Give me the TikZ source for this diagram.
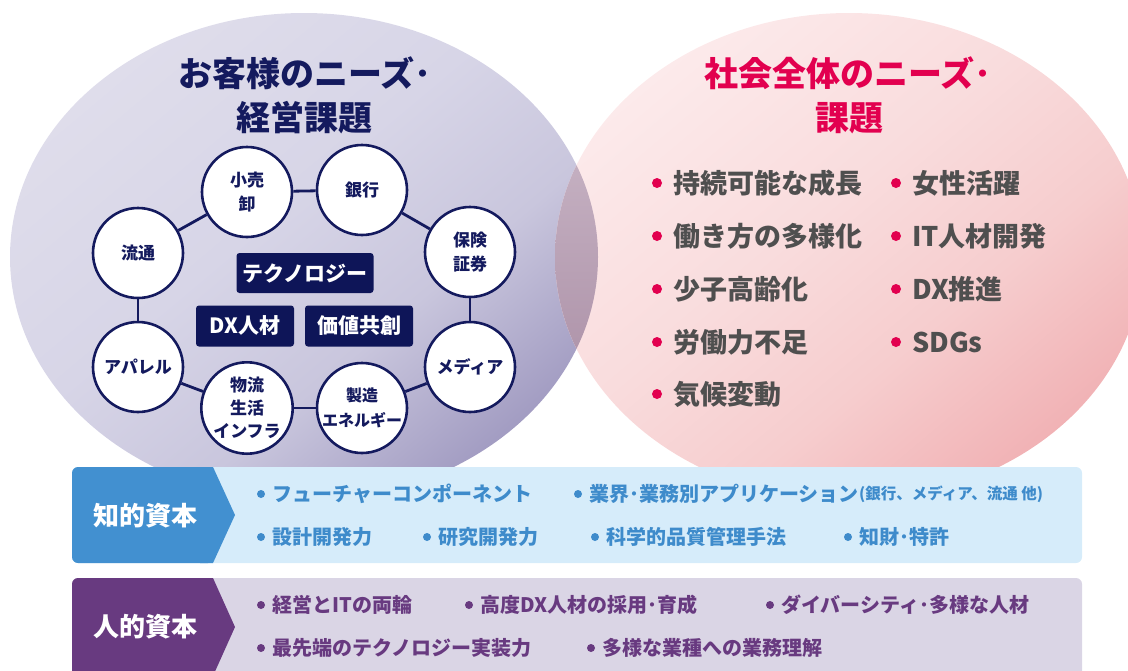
\documentclass[tikz,border=0pt]{standalone}
\usepackage{fontspec}
\setmainfont{Noto Sans CJK JP}
\usetikzlibrary{shapes.geometric}
\definecolor{navy}{HTML}{141A5E}
\definecolor{boxnavy}{HTML}{0E1558}
\definecolor{crim}{HTML}{E2004F}
\definecolor{gtxt}{HTML}{4F4F4F}
\definecolor{lavA}{HTML}{DFDDEB}
\definecolor{lavM}{HTML}{D7D5E7}
\definecolor{lavN}{HTML}{C9C6DD}
\definecolor{lavB}{HTML}{A29CC2}
\definecolor{pinkA}{HTML}{FCEAEB}
\definecolor{pinkM}{HTML}{F9DCDD}
\definecolor{pinkN}{HTML}{F6CDCE}
\definecolor{pinkB}{HTML}{F1B2B5}
\definecolor{ovA}{HTML}{D4C4D2}
\definecolor{ovB}{HTML}{A0819A}
\definecolor{blueL}{HTML}{4290D0}
\definecolor{blueF}{HTML}{D6ECFA}
\definecolor{blueT}{HTML}{3E8BCB}
\definecolor{purL}{HTML}{683A80}
\definecolor{purF}{HTML}{DAD5E5}
\definecolor{purT}{HTML}{683A80}
\pgfdeclareverticalshading{lavsh}{100bp}{color(0bp)=(lavB); color(25bp)=(lavB); color(40bp)=(lavN); color(55bp)=(lavM); color(75bp)=(lavA); color(100bp)=(lavA)}
\pgfdeclareverticalshading{pinksh}{100bp}{color(0bp)=(pinkB); color(25bp)=(pinkB); color(40bp)=(pinkN); color(55bp)=(pinkM); color(75bp)=(pinkA); color(100bp)=(pinkA)}
\newcommand{\fs}[2]{\fontsize{#1}{#2}\selectfont}
\tikzset{
  ind/.style={circle, draw=navy, line width=2.6pt, fill=white, minimum size=90pt, inner sep=0pt, align=center, text=navy, font=\bfseries\fs{17}{24}},
  ring/.style={draw=navy, line width=2.8pt},
  tbox/.style={fill=boxnavy, rounded corners=3pt, text=white, font=\bfseries\fs{21}{21}, inner sep=0pt},
  ttl/.style={font=\bfseries\fs{34}{45}, align=center, inner sep=0pt},
  lst/.style={anchor=west, inner sep=0pt, text=gtxt, font=\bfseries\fs{27}{27}},
  bartxt/.style={anchor=west, inner sep=0pt, font=\bfseries\fs{20}{20}},
  barlbl/.style={inner sep=0pt, text=white, font=\bfseries\fs{26}{26}}
}
\begin{document}
\begin{tikzpicture}[x=1pt,y=-1pt]
\useasboundingbox (0,0) rectangle (1128,670);
\begin{scope}
\clip (0,0) rectangle (1128,670);
% big ellipses
\shade[shading=lavsh, shading angle=40] (304,257) ellipse [x radius=294, y radius=244];
\shade[shading=pinksh, shading angle=40] (849,257) ellipse [x radius=294, y radius=244];
\begin{scope}
\clip (304,257) ellipse [x radius=294, y radius=244];
\shade[top color=ovA, bottom color=ovB] (849,257) ellipse [x radius=294, y radius=244];
\end{scope}

% titles
\node[ttl, text=navy] (lt1) at (305,73) {お客様のニーズ･};
\node[ttl, text=navy] (lt2) at (304,118) {経営課題};
\node[ttl, text=crim] (rt1) at (848,73) {社会全体のニーズ･};
\node[ttl, text=crim] (rt2) at (849,118) {課題};

% ring
\node[ind] (c1) at (247,192) {小売\\卸};
\node[ind] (c2) at (362,190) {銀行};
\node[ind] (c3) at (470,252) {保険\\証券};
\node[ind] (c4) at (470,367) {メディア};
\node[ind, font=\bfseries\fs{16}{25}] (c5) at (362,408) {製造\\エネルギー};
\node[ind, font=\bfseries\fs{17}{23}] (c6) at (247,408) {物流\\生活\\インフラ};
\node[ind] (c7) at (138,367) {アパレル};
\node[ind] (c8) at (138,253) {流通};
\draw[ring] (c1) -- (c2);
\draw[ring] (c2) -- (c3);
\draw[ring] (c3) -- (c4);
\draw[ring] (c4) -- (c5);
\draw[ring] (c5) -- (c6);
\draw[ring] (c6) -- (c7);
\draw[ring] (c7) -- (c8);
\draw[ring] (c8) -- (c1);

% center boxes
\node[tbox, minimum width=137pt, minimum height=40pt] (b1) at (305,273) {テクノロジー};
\node[tbox, minimum width=98pt, minimum height=41pt] (b2) at (245,326) {DX人材};
\node[tbox, minimum width=108pt, minimum height=41pt] (b3) at (359,326) {価値共創};

% right list
\foreach \y/\t [count=\i] in {183/持続可能な成長,236/働き方の多様化,289/少子高齢化,342/労働力不足,394/気候変動}{
  \fill[crim] (657,\y) circle [radius=5];
  \node[lst] (l\i) at (673,\y) {\t};
}
\foreach \y/\t [count=\i] in {183/女性活躍,236/IT人材開発,289/DX推進,342/SDGs}{
  \fill[crim] (896,\y) circle [radius=5];
  \node[lst] (r\i) at (912,\y) {\t};
}

% bar 1
\fill[blueF, rounded corners=6pt] (72,467) rectangle (1082,563);
\fill[blueL, rounded corners=6pt] (72,467) rectangle (214,563);
\fill[blueL] (200,467) -- (213,467) -- (235,515) -- (213,563) -- (200,563) -- cycle;
\node[barlbl] (k1) at (145,516) {知的資本};
\foreach \x/\y/\t [count=\i] in {261/494/フューチャーコンポーネント,578/494/業界･業務別アプリケーション,261/537/設計開発力,427/537/研究開発力,595/537/科学的品質管理手法,848/537/知財･特許}{
  \fill[blueT] (\x,\y) circle [radius=4];
  \node[bartxt, text=blueT] (ka\i) at (\x+11,\y) {\t};
}
\node[anchor=west, inner sep=0pt, text=blueT, font=\bfseries\fs{15.5}{16}] (kx) at (ka2.east) {(銀行、メディア、流通 他)};

% bar 2
\fill[purF, rounded corners=6pt] (72,578) rectangle (1082,690);
\fill[purL, rounded corners=6pt] (72,578) rectangle (214,690);
\fill[purL] (200,578) -- (213,578) -- (235,627) -- (213,676) -- (200,676) -- cycle;
\node[barlbl] (h1) at (145,627) {人的資本};
\foreach \x/\y/\t [count=\i] in {261/605/経営とITの両輪,469/605/高度DX人材の採用･育成,770/605/ダイバーシティ･多様な人材,261/648/最先端のテクノロジー実装力,591/648/多様な業種への業務理解}{
  \fill[purT] (\x,\y) circle [radius=4];
  \node[bartxt, text=purT] (ha\i) at (\x+11,\y) {\t};
}
\end{scope}
\end{tikzpicture}
\end{document}
